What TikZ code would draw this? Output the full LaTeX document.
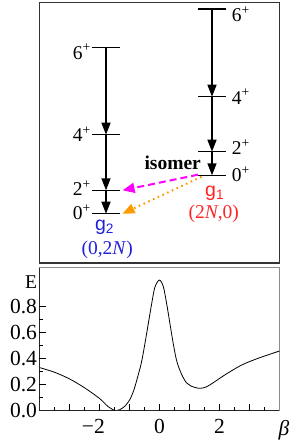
\documentclass[tikz,border=0pt]{standalone}
\usepackage{fontspec}
\setmainfont{Liberation Serif}
\newfontfamily\gfont{Liberation Sans}
\usetikzlibrary{arrows.meta}
\definecolor{gred}{HTML}{FF2424}
\definecolor{gblue}{HTML}{2020DD}
\definecolor{isomag}{HTML}{FF00FF}
\definecolor{isoor}{HTML}{FF9900}
\begin{document}
\begin{tikzpicture}[x=1pt,y=1pt,
  lev/.style={minimum width=28pt, minimum height=0pt, inner sep=0pt, outer sep=0pt},
  levline/.style={line width=1.5pt},
  trans/.style={line width=1.5pt, -{Triangle[length=12pt,width=9pt]}},
  lab/.style={font=\fontsize{19.5}{21}\selectfont, inner sep=0pt},
  ticklab/.style={font=\fontsize{21.5}{23}\selectfont, inner sep=0pt},
  isoarrow/.style={line width=2pt, -{Triangle[length=12pt,width=10pt]}}
]
\useasboundingbox (0,0) rectangle (291,445);
% frame of level scheme
\draw[line width=1.6pt, draw=black!80] (39.5,182) rectangle (279.3,442.3);
% levels
\node[lev] (L6) at (106,397.3) {};
\node[lev] (L4) at (106,310.3) {};
\node[lev] (L2) at (106,254.7) {};
\node[lev] (L0) at (106,231.3) {};
\node[lev] (R6) at (212,436) {};
\node[lev] (R4) at (212,348.3) {};
\node[lev] (R2) at (212,293.3) {};
\node[lev] (R0) at (212,269.7) {};
\foreach \n in {L6,L4,L2,L0,R6,R4,R2,R0} \draw[levline] (\n.west) -- (\n.east);
% transitions
\draw[trans] (L6) -- (L4);
\draw[trans] (L4) -- (L2);
\draw[trans] (L2) -- (L0);
\draw[trans] (R6) -- (R4);
\draw[trans] (R4) -- (R2);
\draw[trans] (R2) -- (R0);
% spin labels
\node[lab, anchor=base east] (tL6) at (91,385.7) {6\textsuperscript{+}};
\node[lab, anchor=base east] (tL4) at (91,303.4) {4\textsuperscript{+}};
\node[lab, anchor=base east] (tL2) at (91,249.1) {2\textsuperscript{+}};
\node[lab, anchor=base east] (tL0) at (91,225.1) {0\textsuperscript{+}};
\node[lab, anchor=base west] (tR6) at (231.7,423.1) {6\textsuperscript{+}};
\node[lab, anchor=base west] (tR4) at (231.7,340.7) {4\textsuperscript{+}};
\node[lab, anchor=base west] (tR2) at (231.7,290.1) {2\textsuperscript{+}};
\node[lab, anchor=base west] (tR0) at (231.7,263.4) {0\textsuperscript{+}};
% isomer decays
\draw[isoarrow, isomag, dash pattern=on 7pt off 4pt] ([yshift=0.6pt]R0.west) -- ([xshift=2.6pt]L2.east);
\draw[isoarrow, isoor, dash pattern=on 1.6pt off 3.6pt] ([xshift=3.5pt,yshift=-1.4pt]R0.west) -- ([xshift=2.6pt]L0.east);
\node[lab, font=\fontsize{19.5}{21}\selectfont\bfseries, anchor=base] (iso) at (172.7,275) {isomer};
% band names
\node[lab, text=gred, anchor=base] (g1) at (214.7,248.9) {\gfont g\textsubscript{1}};
\node[lab, text=gred, anchor=base] (g1q) at (213.8,226.3) {(2\textit{N},0)};
\node[lab, text=gblue, anchor=base] (g2) at (104.5,214.9) {\gfont g\textsubscript{2}};
\node[lab, text=gblue, anchor=base] (g2q) at (107.2,190.3) {(0,2\textit{N})};
% energy plot
\begin{scope}[shift={(159.4,34.3)}, x=30pt, y=130pt]
  \draw[black!45, line width=0.8pt] (-4,0) rectangle (4,1.1);
  \begin{scope}
    \clip (-4,0) rectangle (4,1.1);
    \draw[line width=0.8pt] plot[smooth, tension=0.5] coordinates {
      (-4,0.332) (-3.5,0.296) (-3,0.245) (-2.5,0.177) (-2,0.095) (-1.7,0.03)
      (-1.44,0) (-1.2,0.025) (-1.0,0.08) (-0.85,0.16) (-0.7,0.28) (-0.59,0.38)
      (-0.48,0.52) (-0.37,0.67) (-0.26,0.82) (-0.15,0.95) (0,1.005) (0.13,0.955)
      (0.24,0.826) (0.35,0.672) (0.46,0.518) (0.58,0.38) (0.74,0.28) (0.9,0.215)
      (1.05,0.19) (1.34,0.172) (1.62,0.19) (2.18,0.275) (2.73,0.35) (3.29,0.403)
      (4,0.459)};
  \end{scope}
  \draw[line width=0.9pt, black!85] (-4,1.1) -- (-4,0) -- (4,0);
  \foreach \b in {-3,...,3} \draw[line width=0.7pt] (\b,0) -- ++(0,6.5pt);
  \foreach \b in {-3.5,-2.5,...,3.5} \draw[line width=0.7pt] (\b,0) -- ++(0,3.5pt);
  \foreach \e in {0.2,0.4,0.6,0.8} \draw[line width=0.7pt] (-4,\e) -- ++(6.5pt,0);
  \foreach \e in {0.1,0.3,0.5,0.7} \draw[line width=0.7pt] (-4,\e) -- ++(3.5pt,0);
  \node[ticklab, anchor=base, yshift=-22.6pt] (xm2) at (-2,0) {\llap{−}2};
  \node[ticklab, anchor=base, yshift=-22.6pt] (x0) at (0,0) {0};
  \node[ticklab, anchor=base, yshift=-22.6pt] (x2) at (2,0) {2};
  \node[ticklab, anchor=east, xshift=-2.2pt] (y0) at (-4,0) {0.0};
  \node[ticklab, anchor=east, xshift=-2.2pt] (y2) at (-4,0.2) {0.2};
  \node[ticklab, anchor=east, xshift=-2.2pt] (y4) at (-4,0.4) {0.4};
  \node[ticklab, anchor=east, xshift=-2.2pt] (y6) at (-4,0.6) {0.6};
  \node[ticklab, anchor=east, xshift=-2.2pt] (y8) at (-4,0.8) {0.8};
  \node[lab, anchor=east, xshift=-2.2pt] (Elab) at (-4,0.988) {E};
  \node[ticklab] (blab) at (4.153,-0.148) {\textit{β}};
\end{scope}
\end{tikzpicture}
\end{document}
